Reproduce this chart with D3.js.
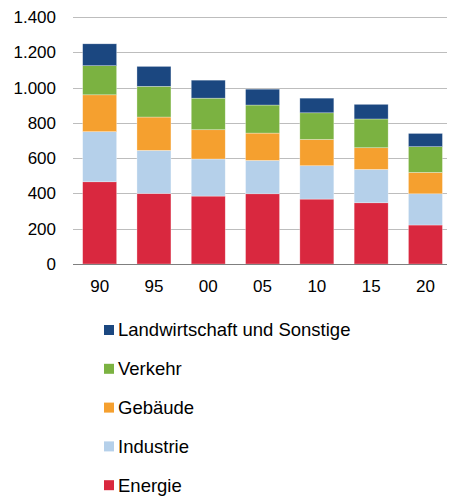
<!DOCTYPE html>
<html>
<head>
<meta charset="utf-8">
<script src="https://cdn.jsdelivr.net/npm/d3@7"></script>
<style>
  body { margin: 0; background: #fff; }
  text { font-family: "Liberation Sans", Arial, sans-serif; fill: #000; }
</style>
</head>
<body>
<svg id="chart" width="449" height="497"></svg>
<script>
// categories (years) and sector series
const years = ["90", "95", "00", "05", "10", "15", "20"];
const energie        = [466, 400, 385, 398, 368, 347, 221];
const industrie      = [284, 244, 210, 189, 189, 189, 177];
const gebaeude       = [209, 189, 166, 155, 149, 123, 121];
const verkehr        = [165, 174, 179, 159, 151, 163, 146];
const landwirtschaft = [124, 113, 102,  90,  83,  83,  75];
const yTicks = [0, 200, 400, 600, 800, 1000, 1200, 1400];

const seriesNames = ["Energie", "Industrie", "Gebäude", "Verkehr", "Landwirtschaft und Sonstige"];
const seriesColors = ["#d9283f", "#b5d0ea", "#f5a02f", "#7bb241", "#1b4780"];
const seriesValues = [energie, industrie, gebaeude, verkehr, landwirtschaft];

const rows = years.map((y, i) => {
    const r = { year: y };
    seriesNames.forEach((n, k) => r[n] = seriesValues[k][i]);
    return r;
});

const svg = d3.select("#chart");
const plotLeft = 73, plotRight = 447, plotTop = 17, plotBottom = 264;

const x = d3.scaleBand()
    .domain(years)
    .range([72.5, 452.6])
    .paddingInner(0.374)
    .paddingOuter(0.187);

const y = d3.scaleLinear()
    .domain([0, 1400])
    .range([plotBottom, plotTop]);

// gridlines
svg.append("g")
    .selectAll("line")
    .data(yTicks.filter(d => d > 0))
    .enter()
    .append("line")
    .attr("x1", plotLeft)
    .attr("x2", plotRight)
    .attr("y1", d => Math.round(y(d)) + 0.5)
    .attr("y2", d => Math.round(y(d)) + 0.5)
    .attr("stroke", "#bdbdbd")
    .attr("stroke-width", 1);

// stacked bars
const stack = d3.stack().keys(seriesNames);
const layers = stack(rows);

svg.append("g")
    .selectAll("g")
    .data(layers)
    .enter()
    .append("g")
    .attr("fill", (d, i) => seriesColors[i])
    .selectAll("rect")
    .data(d => d)
    .enter()
    .append("rect")
    .attr("x", d => x(d.data.year))
    .attr("width", x.bandwidth())
    .attr("y", d => y(d[1]))
    .attr("height", d => y(d[0]) - y(d[1]))
    .attr("stroke", "#ffffff")
    .attr("stroke-opacity", 0.5)
    .attr("stroke-width", 0.6);

// baseline
svg.append("line")
    .attr("x1", plotLeft)
    .attr("x2", plotRight)
    .attr("y1", plotBottom + 0.5)
    .attr("y2", plotBottom + 0.5)
    .attr("stroke", "#7f7f7f")
    .attr("stroke-width", 1);

// y tick labels
const fmt = d3.formatLocale({ decimal: ",", thousands: ".", grouping: [3], currency: ["", "€"] }).format(",");
svg.append("g")
    .selectAll("text")
    .data(yTicks)
    .enter()
    .append("text")
    .attr("x", 56)
    .attr("y", d => y(d))
    .attr("dy", "0.35em")
    .attr("text-anchor", "end")
    .style("font-size", "17px")
    .text(d => fmt(d));

// x labels
svg.append("g")
    .selectAll("text")
    .data(years)
    .enter()
    .append("text")
    .attr("x", d => x(d) + x.bandwidth() / 2)
    .attr("y", 292)
    .attr("text-anchor", "middle")
    .style("font-size", "17px")
    .text(d => d);

// legend, top-down in reverse stack order
const legendItems = seriesNames.map((n, i) => ({ name: n, color: seriesColors[i] })).reverse();
const legend = svg.append("g")
    .selectAll("g")
    .data(legendItems)
    .enter()
    .append("g")
    .attr("transform", (d, i) => `translate(104,${330 + i * 38.8})`);

legend.append("rect")
    .attr("x", 0)
    .attr("y", -5)
    .attr("width", 10)
    .attr("height", 10)
    .attr("fill", d => d.color);

legend.append("text")
    .attr("x", 14)
    .attr("y", 0)
    .attr("dy", "0.35em")
    .style("font-size", "18.5px")
    .text(d => d.name);
</script>
</body>
</html>
